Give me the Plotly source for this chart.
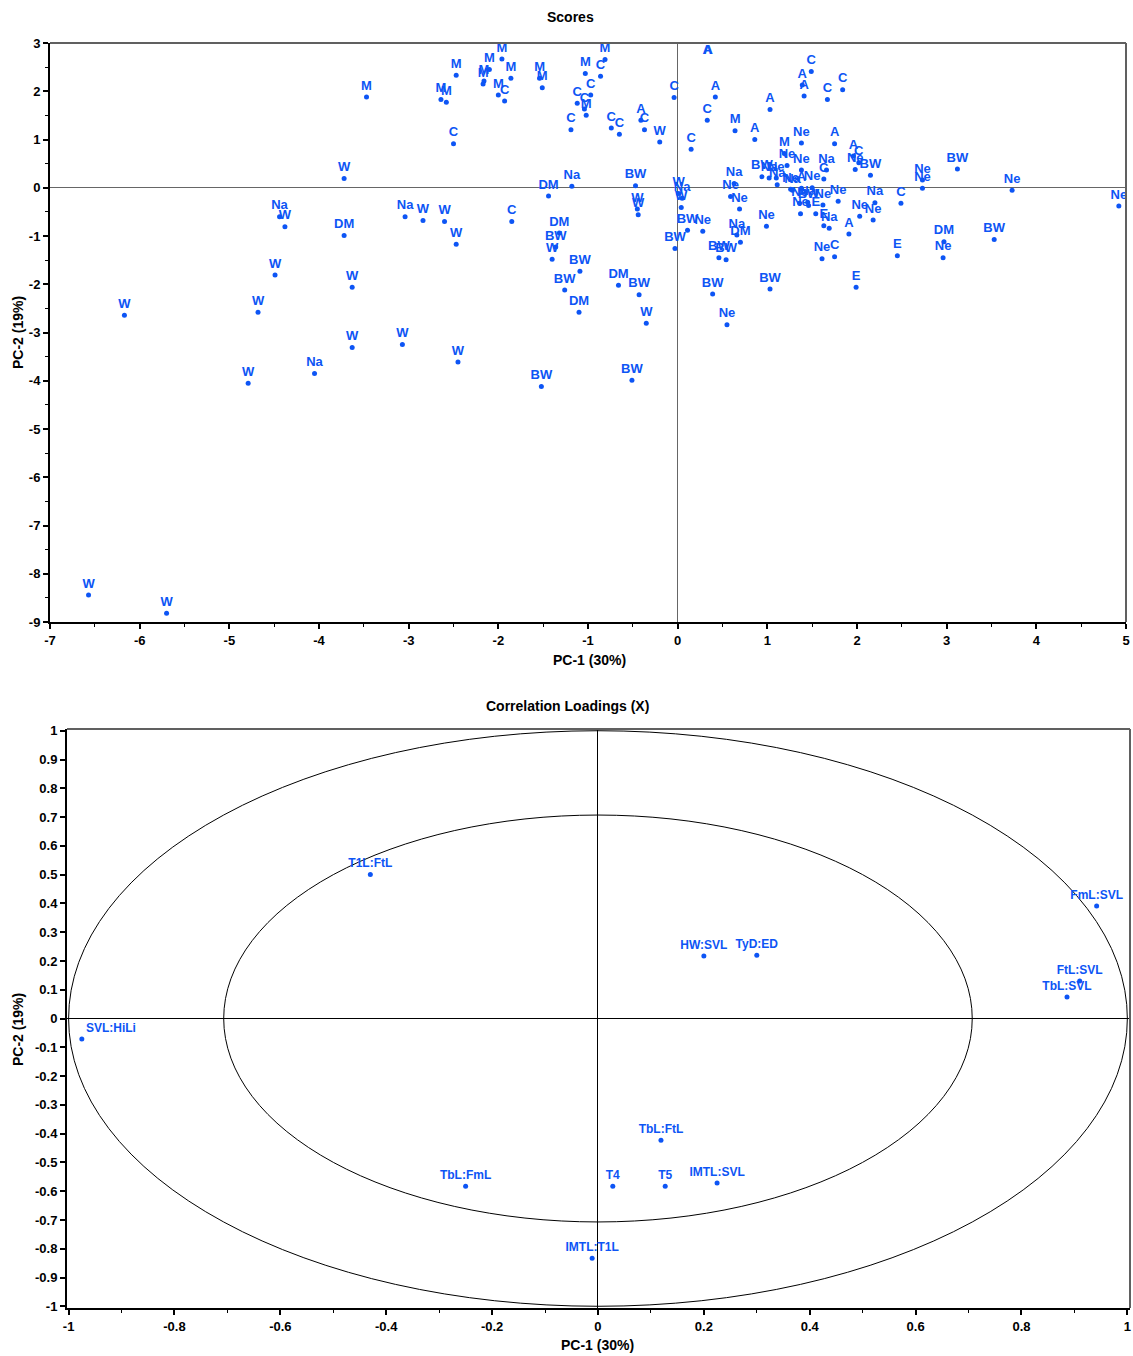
import plotly.graph_objects as go

# ---- Scores (PC-1 vs PC-2) ----
score_labels = [
    "W", "W", "W", "W", "W", "W", "W", "W", "W", "W", "W", "W", "W", "W", "W", "W", "W", "W", "W", "W", "W", "W",
    "Na", "Na", "Na", "Na", "Na", "Na", "Na", "Na", "Na", "Na", "Na", "Na", "Na", "Na",
    "DM", "DM", "DM", "DM", "DM", "DM", "DM",
    "BW", "BW", "BW", "BW", "BW", "BW", "BW", "BW", "BW", "BW", "BW", "BW", "BW", "BW", "BW", "BW", "BW", "BW",
    "M", "M", "M", "M", "M", "M", "M", "M", "M", "M", "M", "M", "M", "M", "M", "M", "M",
    "C", "C", "C", "C", "C", "C", "C", "C", "C", "C", "C", "C", "C", "C", "C", "C", "C", "C", "C", "C", "C",
    "A", "A", "A", "A", "A", "A", "A", "A", "A", "A", "A", "A",
    "Ne", "Ne", "Ne", "Ne", "Ne", "Ne", "Ne", "Ne", "Ne", "Ne", "Ne", "Ne", "Ne", "Ne", "Ne", "Ne", "Ne", "Ne",
    "Ne", "Ne", "Ne", "Ne", "Ne", "Ne",
    "E", "E", "E", "E",
]
score_pc1 = [
    -6.17, -6.57, -5.70, -4.79, -4.68, -4.49, -4.38, -3.72, -3.63, -3.63, -3.07, -2.45, -2.84, -2.60, -2.47, -1.40,
    -0.35, -0.45, -0.44, -0.20, 0.01, 0.04,
    -4.44, -4.05, -3.04, -1.18, 0.05, 0.63, 0.66, 1.66, 2.20, 1.69, 1.02, 1.11, 1.28, 1.45,
    -3.72, -1.44, -1.32, -1.10, -0.66, 0.70, 2.97,
    -1.36, -1.09, -1.26, -0.43, -1.52, -0.51, -0.47, 0.11, -0.03, 0.46, 0.54, 0.39, 1.03, 0.94, 1.46, 2.15, 3.12,
    3.53,
    -3.47, -2.47, -2.64, -2.58, -2.16, -2.17, -2.10, -1.96, -1.86, -2.00, -1.54, -1.51, -1.03, -0.81, -1.02, 0.64,
    1.19,
    -2.50, -1.93, -0.86, -0.97, -1.12, -1.04, -1.19, -0.74, -0.65, -0.37, -0.04, 0.33, 0.15, 1.49, 1.67, 1.84, 2.02,
    1.63, 1.75, 2.49, -1.85,
    0.33, 0.34, -0.41, 0.42, 0.86, 1.03, 1.39, 1.41, 1.75, 1.96, 1.38, 1.91,
    0.28, 0.59, 0.69, 0.99, 0.55, 1.38, 1.38, 1.22, 1.26, 1.36, 1.37, 1.62, 1.79, 1.50, 1.98, 2.03, 2.18, 1.61,
    2.73, 2.73, 3.73, 4.92, 2.96, 1.10,
    1.54, 1.63, 2.45, 1.99,
]
score_pc2 = [
    -2.64, -8.44, -8.82, -4.05, -2.58, -1.81, -0.81, 0.19, -2.06, -3.31, -3.25, -3.61, -0.68, -0.70, -1.17, -1.48,
    -2.81, -0.44, -0.56, 0.95, -0.12, -0.41,
    -0.60, -3.85, -0.60, 0.03, -0.22, 0.09, -0.98, 0.37, -0.31, -0.84, 0.20, 0.06, -0.05, -0.30,
    -0.99, -0.17, -0.94, -2.58, -2.02, -1.13, -1.12,
    -1.23, -1.73, -2.12, -2.22, -4.12, -3.99, 0.04, -0.88, -1.26, -1.45, -1.49, -2.20, -2.10, 0.23, -0.37, 0.26, 0.39,
    -1.07,
    1.88, 2.33, 1.83, 1.77, 2.21, 2.15, 2.45, 2.67, 2.27, 1.92, 2.27, 2.07, 2.37, 2.66, 1.50, 1.18,
    0.71,
    0.91, 1.80, 2.31, 1.92, 1.75, 1.63, 1.20, 1.24, 1.11, 1.20, 1.87, 1.40, 0.80, 2.41, 1.83, 2.03, 0.52,
    0.18, -1.43, -0.32, -0.70,
    3.05, 3.06, 1.40, 1.88, 1.00, 1.62, 2.13, 1.90, 0.91, 0.66, -0.01, -0.96,
    -0.90, -0.18, -0.44, -0.80, -2.84, 0.93, 0.37, 0.46, -0.03, -0.32, -0.54, -0.36, -0.28, 0.00, 0.38, -0.59, -0.67,
    -1.47,
    0.16, -0.01, -0.05, -0.38, -1.45, 0.20,
    -0.54, -0.79, -1.41, -2.06,
]
score_xticks = [-7, -6, -5, -4, -3, -2, -1, 0, 1, 2, 3, 4, 5]
score_yticks = [3, 2, 1, 0, -1, -2, -3, -4, -5, -6, -7, -8, -9]

# ---- Correlation loadings (X) ----
loading_names = ["T1L:FtL", "HW:SVL", "TyD:ED", "FmL:SVL", "FtL:SVL", "TbL:SVL", "SVL:HiLi",
                 "TbL:FtL", "TbL:FmL", "T4", "T5", "IMTL:SVL", "IMTL:T1L"]
loading_pc1 = [-0.43, 0.20, 0.30, 0.942, 0.91, 0.886, -0.975, 0.119, -0.25, 0.028, 0.127, 0.225, -0.011]
loading_pc2 = [0.50, 0.217, 0.22, 0.391, 0.13, 0.075, -0.071, -0.423, -0.583, -0.583, -0.583, -0.572, -0.833]
loading_xticks = [-1, -0.8, -0.6, -0.4, -0.2, 0, 0.2, 0.4, 0.6, 0.8, 1]
loading_yticks = [1, 0.9, 0.8, 0.7, 0.6, 0.5, 0.4, 0.3, 0.2, 0.1, 0, -0.1, -0.2, -0.3, -0.4, -0.5, -0.6, -0.7,
                  -0.8, -0.9, -1]

# explained-variance circles (100 % and 50 %)
circle_radii = [1.0, 0.707]

BLUE = "#0d55f5"
FONT = "Liberation Sans, Arial, sans-serif"
W, H = 1133, 1356


def px_x(p):
    return p / W


def px_y(p):
    return 1 - p / H


def tick_text(vals):
    # plain hyphen for negatives
    return [f"{v:g}".replace("\u2212", "-") for v in vals]


fig = go.Figure()

# points near the upper edge get their label below so it stays inside the frame
score_pos = ["bottom center" if v > 3 else "top center" for v in score_pc2]

fig.add_trace(go.Scatter(
    x=score_pc1, y=score_pc2, mode="markers+text", text=score_labels,
    textposition=score_pos,
    marker=dict(color=BLUE, size=5),
    textfont=dict(color=BLUE, size=13, family=FONT, weight="bold"),
    xaxis="x", yaxis="y", showlegend=False, hoverinfo="x+y+text",
))

load_pos = ["top right" if v < -0.9 else "top center" for v in loading_pc1]
fig.add_trace(go.Scatter(
    x=loading_pc1, y=loading_pc2, mode="markers+text", text=loading_names,
    textposition=load_pos,
    marker=dict(color=BLUE, size=5),
    textfont=dict(color=BLUE, size=12, family=FONT, weight="bold"),
    xaxis="x2", yaxis="y2", showlegend=False, hoverinfo="x+y+text",
))

tickfont = dict(family=FONT, size=13, color="black", weight="bold")
common = dict(
    showgrid=False, showline=True, linecolor="black", linewidth=2,
    ticks="outside", ticklen=5, tickwidth=2, tickcolor="black",
    tickfont=tickfont, mirror=False, zeroline=True, zerolinewidth=1,
    automargin=False, tickmode="array",
)

fig.update_layout(
    width=W, height=H,
    margin=dict(l=0, r=0, t=0, b=0, autoexpand=False),
    paper_bgcolor="white", plot_bgcolor="white",
    font=dict(family=FONT),
    xaxis=dict(domain=[px_x(50), px_x(1126)], range=[-7, 5], anchor="y",
               tickvals=score_xticks, ticktext=tick_text(score_xticks),
               zerolinecolor="#666666",
               minor=dict(dtick=0.5, ticks="outside", ticklen=3, tickcolor="black", tickwidth=1),
               **common),
    yaxis=dict(domain=[px_y(622), px_y(43)], range=[-9, 3], anchor="x",
               tickvals=score_yticks, ticktext=tick_text(score_yticks),
               zerolinecolor="#666666",
               minor=dict(dtick=0.5, ticks="outside", ticklen=3, tickcolor="black", tickwidth=1),
               **common),
    xaxis2=dict(domain=[px_x(67), px_x(1130)], range=[-1.003, 1.005], anchor="y2",
                tickvals=loading_xticks, ticktext=tick_text(loading_xticks),
                zerolinecolor="black",
                minor=dict(dtick=0.1, ticks="outside", ticklen=3, tickcolor="black", tickwidth=1),
                **common),
    yaxis2=dict(domain=[px_y(1308), px_y(729)], range=[-1.006, 1.006], anchor="x2",
                tickvals=loading_yticks, ticktext=tick_text(loading_yticks),
                zerolinecolor="black",
                **common),
)

shapes = []
# grey upper / right frame edges
for xr, yr in (("x", "y"), ("x2", "y2")):
    shapes.append(dict(type="line", xref=f"{xr} domain", yref=f"{yr} domain",
                       x0=0, x1=1, y0=1, y1=1, line=dict(color="#606060", width=2)))
    shapes.append(dict(type="line", xref=f"{xr} domain", yref=f"{yr} domain",
                       x0=1, x1=1, y0=0, y1=1, line=dict(color="#606060", width=2)))
for r in circle_radii:
    shapes.append(dict(type="circle", xref="x2", yref="y2", x0=-r, x1=r, y0=-r, y1=r,
                       line=dict(color="black", width=1), layer="below"))
fig.update_layout(shapes=shapes)

title_font = dict(family=FONT, size=14, color="black", weight="bold")
axis_font = dict(family=FONT, size=14, color="black", weight="bold")
ann = [
    dict(text="Scores", x=px_x(570), y=px_y(17), font=title_font),
    dict(text="PC-1 (30%)", x=px_x(589), y=px_y(660), font=axis_font),
    dict(text="PC-2 (19%)", x=px_x(18), y=px_y(333), font=axis_font, textangle=-90),
    dict(text="Correlation Loadings (X)", x=px_x(567), y=px_y(706), font=title_font),
    dict(text="PC-1 (30%)", x=px_x(598), y=px_y(1345), font=axis_font),
    dict(text="PC-2 (19%)", x=px_x(18), y=px_y(1030), font=axis_font, textangle=-90),
]
for a in ann:
    a.update(xref="paper", yref="paper", showarrow=False, xanchor="center", yanchor="middle")
fig.update_layout(annotations=ann)

fig.write_html("out.html")
